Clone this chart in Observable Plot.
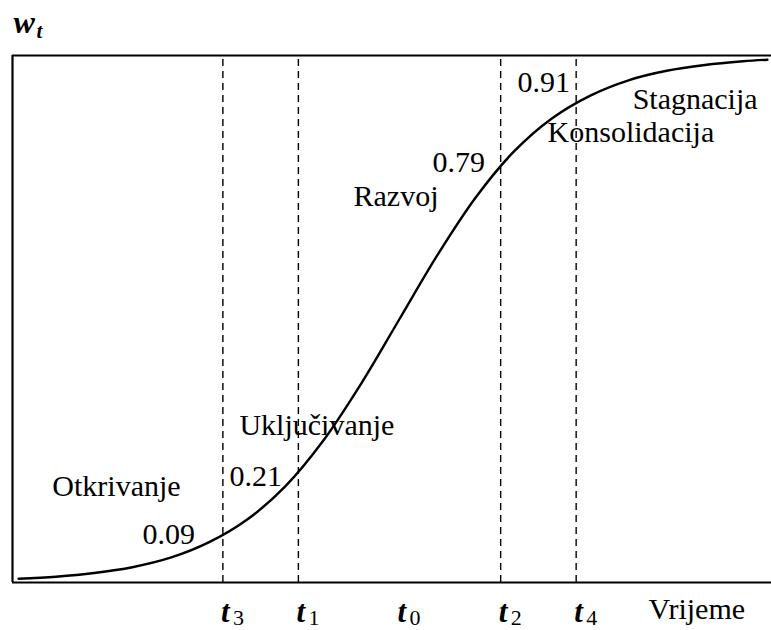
<!DOCTYPE html>
<html><head><meta charset="utf-8">
<script src="https://cdn.jsdelivr.net/npm/d3@7"></script>
<script src="https://cdn.jsdelivr.net/npm/@observablehq/plot@0.6"></script>
<style>body{margin:0;background:#fff} svg text{font-family:"Liberation Serif","DejaVu Serif",serif !important;}</style>
</head><body><div id="chart"></div>
<script>
// S-curve: time (units around t0) and share w_t
const time  = [-4.99,-4.5,-4,-3.5,-3,-2.5,-2,-1.5,-1,-0.5,0,0.5,1,1.5,2,2.5,3,3.5,4,4.5,4.82];
const share = [0.007,0.011,0.018,0.029,0.047,0.076,0.119,0.182,0.269,0.378,0.5,0.622,0.731,0.818,0.881,0.924,0.953,0.971,0.982,0.989,0.992];

// time markers
const markerSub  = ["3","1","0","2","4"];
const markerTime = [-2.314,-1.325,0,1.325,2.314];
const dashed     = [true,true,false,true,true];
const markerShare = [0.09,0.21,null,0.79,0.91];

// stage names
const stageNames = ["Otkrivanje","Uključivanje","Razvoj","Konsolidacija","Stagnacija"];
// annotation anchors (data coords)
const stageTime  = [-4.548,-2.097,-0.603,1.940,3.054];
const stageShare = [0.165,0.279,0.715,0.835,0.899];
const shareLabelTime  = [-3.368,-2.228,0.432,1.547];
const shareLabelShare = [0.074,0.184,0.778,0.930];

const xDomain = [-5.07, 4.873];

const curve = time.map((t,i)=>({t, w: share[i]}));
const markers = markerTime.map((t,i)=>({t, sub: markerSub[i], dashed: dashed[i], w: markerShare[i]}));
const dashedLines = markers.filter(d=>d.dashed);
const shareLabels = dashedLines.map((d,i)=>({t: shareLabelTime[i], w: shareLabelShare[i], text: d3.format(".2f")(d.w)}));
const stages = stageNames.map((s,i)=>({text:s, t: stageTime[i], w: stageShare[i]}));

const F = "Liberation Serif, DejaVu Serif, serif";
const plot = Plot.plot({
  width: 771, height: 630,
  marginLeft: 12, marginRight: 0, marginTop: 55, marginBottom: 48,
  x: {domain: xDomain, axis: null},
  y: {domain: [0, 1], axis: null},
  style: {fontFamily: F, background: "#fff", color: "#000"},
  marks: [
    Plot.ruleY([0, 1], {stroke: "#000", strokeWidth: 2.2}),
    Plot.ruleX([xDomain[0]], {stroke: "#000", strokeWidth: 2.2}),
    Plot.ruleX(dashedLines, {x: "t", y1: 0, y2: 1, stroke: "#000", strokeWidth: 1.4, strokeDasharray: "7,5"}),
    Plot.line(curve, {x: "t", y: "w", curve: "catmull-rom", stroke: "#000", strokeWidth: 2.4}),
    Plot.text(stages, {x: "t", y: "w", text: "text", textAnchor: "start", lineAnchor: "bottom", fontSize: 30, fontFamily: F, fill: "#000"}),
    Plot.text(shareLabels, {x: "t", y: "w", text: "text", textAnchor: "start", lineAnchor: "bottom", fontSize: 30, fontFamily: F, fill: "#000"}),
    Plot.text(markers, {x: "t", y: () => 0, text: () => "t", textAnchor: "start", lineAnchor: "bottom", dx: -2, dy: 39, fontSize: 31, fontFamily: F, fontStyle: "italic", fontWeight: "bold", fill: "#000"}),
    Plot.text(markers, {x: "t", y: () => 0, text: "sub", textAnchor: "start", lineAnchor: "bottom", dx: 10, dy: 42, fontSize: 22, fontFamily: F, fill: "#000"}),
    Plot.text(["Vrijeme"], {x: () => 3.263, y: () => 0, text: d => d, textAnchor: "start", lineAnchor: "bottom", dy: 36, fontSize: 30, fontFamily: F, fill: "#000"}),
    Plot.text(["w"], {frameAnchor: "top-left", text: d => d, textAnchor: "start", lineAnchor: "bottom", dx: 1, dy: -23, fontSize: 32, fontFamily: F, fontStyle: "italic", fontWeight: "bold", fill: "#000"}),
    Plot.text(["t"], {frameAnchor: "top-left", text: d => d, textAnchor: "start", lineAnchor: "bottom", dx: 24, dy: -18, fontSize: 21, fontFamily: F, fontStyle: "italic", fontWeight: "bold", fill: "#000"})
  ]
});
document.getElementById("chart").append(plot);
</script>
</body></html>
